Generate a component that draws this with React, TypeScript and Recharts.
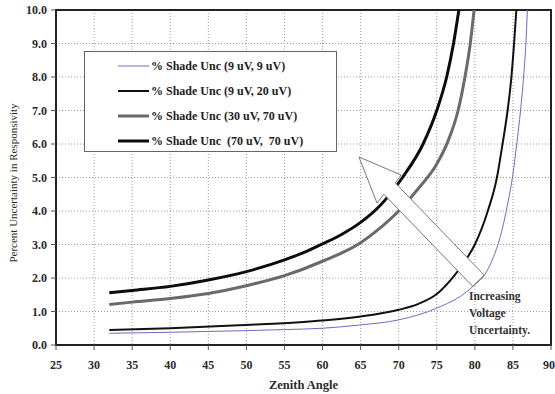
import React from 'react';
import { LineChart, Line, XAxis, YAxis, CartesianGrid, Legend, ReferenceArea, Label } from 'recharts';

// zenith angle (deg) vs percent uncertainty
const angles9x9 = [32, 40, 50, 55, 60, 65, 70, 75, 78.7, 80, 81.3, 82.4, 83.3, 84.3, 85, 85.5, 86, 86.4, 86.7, 86.9];
const unc9x9 = [0.35, 0.38, 0.43, 0.46, 0.5, 0.6, 0.75, 1.1, 1.55, 1.8, 2.1, 2.6, 3.2, 4.2, 5.1, 6.0, 7.0, 8.0, 9.0, 10.0];

const angles9x20 = [32, 40, 50, 57, 60, 65, 70, 72.5, 75, 77.2, 78.7, 80, 81.7, 82.9, 83.6, 84.3, 84.8, 85.15, 85.45];
const unc9x20 = [0.45, 0.5, 0.6, 0.68, 0.73, 0.85, 1.05, 1.22, 1.52, 2.04, 2.5, 3.0, 4.0, 5.0, 5.95, 7.0, 8.0, 9.0, 10.0];

const angles30x70 = [32, 35, 40, 45, 50, 55, 60, 65, 67.5, 70, 72.5, 75, 76.5, 77.8, 78.7, 79.4, 79.9];
const unc30x70 = [1.21, 1.28, 1.39, 1.54, 1.77, 2.07, 2.5, 3.05, 3.48, 4.0, 4.65, 5.4, 6.1, 7.0, 8.0, 9.0, 10.0];

const angles70x70 = [32, 35, 40, 45, 50, 55, 57.5, 60, 62.5, 65, 67.5, 70.5, 73.2, 75, 76.3, 77.2, 77.9];
const unc70x70 = [1.56, 1.63, 1.75, 1.94, 2.19, 2.54, 2.76, 3.02, 3.3, 3.66, 4.15, 5.0, 6.0, 7.0, 8.0, 9.0, 10.0];

const xTicks = [25, 30, 35, 40, 45, 50, 55, 60, 65, 70, 75, 80, 85, 90];
const yTicks = [0, 1, 2, 3, 4, 5, 6, 7, 8, 9, 10];

const toPoints = (xs: number[], ys: number[]) => xs.map((x, i) => ({ x, y: ys[i] }));

const series = [
  { name: '% Shade Unc (9 uV, 9 uV)', data: toPoints(angles9x9, unc9x9), color: '#7468c4', width: 1 },
  { name: '% Shade Unc (9 uV, 20 uV)', data: toPoints(angles9x20, unc9x20), color: '#111111', width: 2 },
  { name: '% Shade Unc (30 uV, 70 uV)', data: toPoints(angles30x70, unc30x70), color: '#6a6a6a', width: 3 },
  { name: '% Shade Unc  (70 uV,  70 uV)', data: toPoints(angles70x70, unc70x70), color: '#0c0c0c', width: 3 },
];

const FONT = '"Liberation Serif", "DejaVu Serif", serif';
const tickStyle = { fontFamily: FONT, fontSize: 12, fontWeight: 700, fill: '#2a2a2a' };

const LegendBox = () => (
  <div
    style={{
      width: 253,
      height: 101,
      boxSizing: 'border-box',
      border: '1px solid #666',
      background: '#fff',
      fontFamily: FONT,
      fontSize: 12,
      fontWeight: 700,
      color: '#222',
      position: 'relative',
    }}
  >
    {series.map((s, i) => (
      <div key={s.name} style={{ position: 'absolute', left: 33, top: 6 + i * 25, height: 16, display: 'flex', alignItems: 'center', whiteSpace: 'pre' }}>
        <svg width={31} height={16} style={{ marginRight: 2 }}>
          <line x1={0} x2={31} y1={8} y2={8} stroke={s.color} strokeWidth={s.width} />
        </svg>
        <span>{s.name}</span>
      </div>
    ))}
  </div>
);

export default function App() {
  return (
    <div style={{ position: 'fixed', left: 0, top: 0, width: 555, height: 394, background: '#fff' }}>
      <LineChart width={555} height={394} margin={{ top: 10, right: 4, left: 0, bottom: 0 }}>
        <CartesianGrid stroke="#9a9a9a" strokeDasharray="1 2" />
        <XAxis
          type="number"
          dataKey="x"
          domain={[25, 90]}
          ticks={xTicks}
          allowDataOverflow
          height={49}
          tick={tickStyle}
          tickSize={5}
          tickMargin={10}
          tickLine={{ stroke: '#555' }}
          axisLine={{ stroke: '#222', strokeWidth: 2 }}
        >
          <Label
            content={(p: any) => {
              const vb = p.viewBox || { x: 56, width: 495 };
              return (
                <text x={vb.x + vb.width / 2} y={389} textAnchor="middle" style={{ ...tickStyle, fontSize: 12.5 }}>
                  Zenith Angle
                </text>
              );
            }}
          />
        </XAxis>
        <YAxis
          type="number"
          domain={[0, 10]}
          ticks={yTicks}
          allowDataOverflow
          width={56}
          tick={tickStyle}
          tickSize={5}
          tickMargin={4}
          tickLine={{ stroke: '#555' }}
          tickFormatter={(v: number) => v.toFixed(1)}
          axisLine={{ stroke: '#222', strokeWidth: 2 }}
        >
          <Label
            content={() => {
              const cx = 17;
              const cy = 183;
              return (
                <text x={cx} y={cy} transform={`rotate(-90 ${cx} ${cy})`} textAnchor="middle" style={{ ...tickStyle, fontSize: 11, fontWeight: 400 }}>
                  Percent Uncertainty in Responsivity
                </text>
              );
            }}
          />
        </YAxis>
        <ReferenceArea x1={25} x2={90} y1={0} y2={10} fill="none" stroke="#222" strokeWidth={2} ifOverflow="visible" />
        {series.map((s) => (
          <Line
            key={s.name}
            data={s.data}
            dataKey="y"
            name={s.name}
            type="monotone"
            stroke={s.color}
            strokeWidth={s.width}
            dot={false}
            activeDot={false}
            isAnimationActive={false}
          />
        ))}
        <Legend
          layout="vertical"
          align="center"
          verticalAlign="middle"
          wrapperStyle={{ left: 84, top: 51, width: 253, height: 101 }}
          content={() => <LegendBox />}
        />
      </LineChart>
      <svg width={555} height={394} style={{ position: 'absolute', left: 0, top: 0, pointerEvents: 'none' }}>
        <polygon
          points="359,157 401,175 395.4,183 484.2,275.1 472.7,286.3 383.8,194.2 377,203"
          fill="#fff"
          stroke="#777"
          strokeWidth={1}
        />
        <g style={{ fontFamily: FONT, fontSize: 11.5, fontWeight: 700, fill: '#333' }}>
          <text x={469} y={300}>Increasing</text>
          <text x={469} y={317}>Voltage</text>
          <text x={469} y={334}>Uncertainty.</text>
        </g>
      </svg>
    </div>
  );
}
